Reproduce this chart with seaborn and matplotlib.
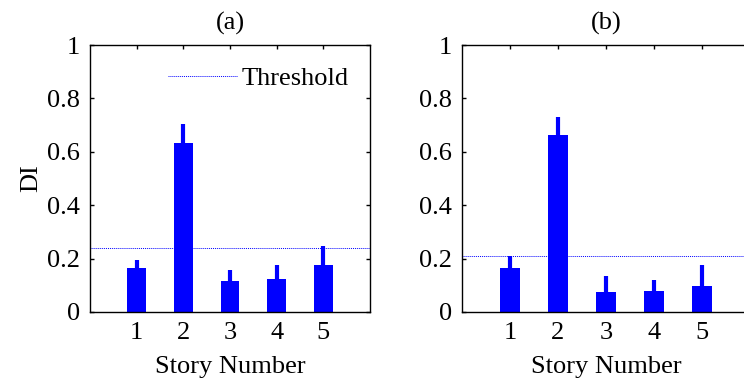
import numpy as np
import pandas as pd
import matplotlib
matplotlib.use("Agg")
import matplotlib.pyplot as plt
from matplotlib.lines import Line2D
import seaborn as sns

# Damage index per story: identified mean value and upper bound, two cases
stories = [1, 2, 3, 4, 5]
di_mean_a = [0.165, 0.632, 0.115, 0.123, 0.175]
di_upper_a = [0.194, 0.705, 0.156, 0.175, 0.248]
threshold_a = 0.241

di_mean_b = [0.165, 0.662, 0.074, 0.079, 0.097]
di_upper_b = [0.211, 0.729, 0.134, 0.121, 0.175]
threshold_b = 0.211

panel_titles = ["(a)", "(b)"]
y_ticks = [0, 0.2, 0.4, 0.6, 0.8, 1]
y_tick_labels = ["0", "0.2", "0.4", "0.6", "0.8", "1"]

sns.set_style("ticks")
plt.rcParams["font.family"] = ["Liberation Serif", "DejaVu Serif"]
plt.rcParams["font.size"] = 19
plt.rcParams["text.color"] = "black"
plt.rcParams["axes.labelcolor"] = "black"

W, H = 744, 381
fig = plt.figure(figsize=(W / 100, H / 100), dpi=100)
ax_a = fig.add_axes([90 / W, 1 - 312 / H, 280 / W, 267 / H])
ax_b = fig.add_axes([462 / W, 1 - 312 / H, 288 / W, 267 / H])

blue = "#0000FF"

def draw_panel(ax, means, uppers, thr, title):
    df = pd.DataFrame({"story": stories, "di": means})
    sns.barplot(data=df, x="story", y="di", native_scale=True, width=0.4,
                color=blue, saturation=1, edgecolor="none", linewidth=0,
                errorbar=None, ax=ax, zorder=2)
    # one-sided upper range drawn above each bar
    ax.vlines(stories, means, uppers, colors=blue, linewidth=3.0, zorder=3)
    ax.axhline(thr, color=blue, linestyle=(0, (1, 1)), linewidth=0.7, zorder=1)
    ax.set_xlim(0, 6)
    ax.set_ylim(0, 1)
    ax.set_xticks(stories)
    ax.set_xticklabels([str(s) for s in stories])
    ax.set_yticks(y_ticks)
    ax.set_yticklabels(y_tick_labels)
    ax.tick_params(direction="in", length=3, width=1, top=True, right=True,
                   pad=7, labelsize=19, colors="black", labelcolor="black")
    for sp in ax.spines.values():
        sp.set_visible(True)
        sp.set_linewidth(1.0)
        sp.set_color("black")
    ax.set_xlabel("Story Number", fontsize=19, labelpad=9, color="black")
    ax.set_ylabel("")
    ax.set_title(title, fontsize=19, pad=11, color="black")

draw_panel(ax_a, di_mean_a, di_upper_a, threshold_a, panel_titles[0])
draw_panel(ax_b, di_mean_b, di_upper_b, threshold_b, panel_titles[1])
ax_b.spines["right"].set_visible(False)
ax_b.tick_params(right=False)

ax_a.set_ylabel("DI", fontsize=19, labelpad=4, color="black")

handle = Line2D([], [], color=blue, linestyle=(0, (1, 1)), linewidth=0.7)
leg = ax_a.legend([handle], ["Threshold"], loc="center right",
                  bbox_to_anchor=(0.925, 0.876), frameon=False, fontsize=19,
                  handlelength=2.6, handletextpad=0.2, borderpad=0,
                  borderaxespad=0)
for t in leg.get_texts():
    t.set_color("black")

fig.savefig("out.png", dpi=100)
